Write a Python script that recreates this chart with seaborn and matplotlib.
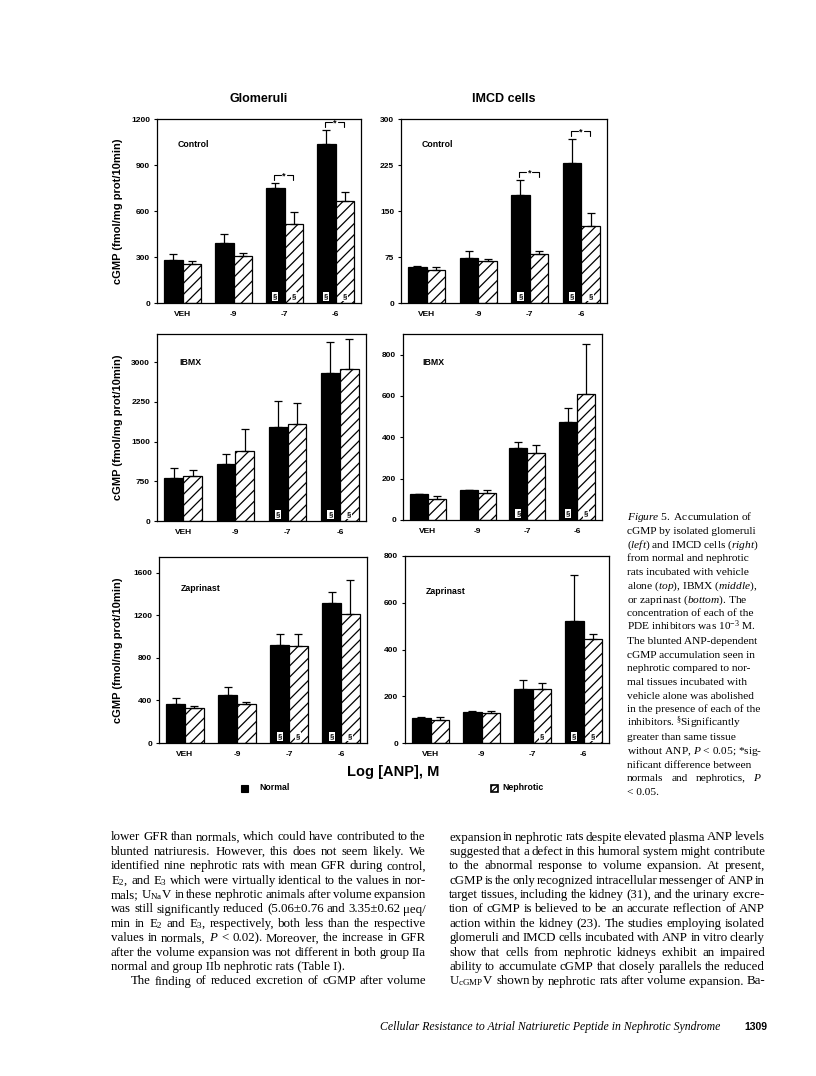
import numpy as np
import pandas as pd
import matplotlib
matplotlib.use("Agg")
import matplotlib.pyplot as plt
import matplotlib.transforms as mtransforms
from matplotlib.patches import Rectangle
import seaborn as sns

W, H = 816, 1076

doses = ["VEH", "-9", "-7", "-6"]
groups = ["Normal", "Nephrotic"]

# glomeruli / IMCD cells, mean and SEM
glom_ctrl_normal = [283, 391, 748, 1039]
glom_ctrl_normal_sem = [39, 61, 32, 87]
glom_ctrl_neph = [254, 307, 517, 667]
glom_ctrl_neph_sem = [22, 21, 74, 55]

imcd_ctrl_normal = [58, 74, 176, 229]
imcd_ctrl_normal_sem = [3, 10, 24, 39]
imcd_ctrl_neph = [53, 68, 80, 126]
imcd_ctrl_neph_sem = [6, 4, 4, 21]

glom_ibmx_normal = [803, 1067, 1776, 2793]
glom_ibmx_normal_sem = [201, 201, 496, 578]
glom_ibmx_neph = [847, 1324, 1827, 2862]
glom_ibmx_neph_sem = [107, 421, 401, 578]

imcd_ibmx_normal = [126, 144, 346, 475]
imcd_ibmx_normal_sem = [2, 2, 30, 69]
imcd_ibmx_neph = [102, 129, 326, 611]
imcd_ibmx_neph_sem = [13, 15, 37, 242]

glom_zap_normal = [368, 453, 924, 1317]
glom_zap_normal_sem = [53, 78, 101, 101]
glom_zap_neph = [330, 368, 908, 1210]
glom_zap_neph_sem = [22, 22, 117, 327]

imcd_zap_normal = [105, 131, 231, 520]
imcd_zap_normal_sem = [7, 7, 39, 200]
imcd_zap_neph = [97, 127, 233, 447]
imcd_zap_neph_sem = [14, 8, 22, 20]

# § flags (normal, nephrotic) and * brackets (dose index, height)
glom_ctrl_sect = ([0, 0, 1, 1], [0, 0, 1, 1])
imcd_ctrl_sect = ([0, 0, 1, 1], [0, 0, 0, 1])
glom_ibmx_sect = ([0, 0, 1, 1], [0, 0, 0, 1])
imcd_ibmx_sect = ([0, 0, 1, 1], [0, 0, 0, 1])
glom_zap_sect = ([0, 0, 1, 1], [0, 0, 1, 1])
imcd_zap_sect = ([0, 0, 0, 1], [0, 0, 1, 1])
glom_ctrl_stars = [(2, 837), (3, 1178)]
imcd_ctrl_stars = [(2, 214), (3, 281)]

sns.set_style("ticks", {"axes.edgecolor": "black", "xtick.color": "black",
                        "ytick.color": "black", "text.color": "black",
                        "axes.labelcolor": "black"})
plt.rcParams["font.family"] = ["Liberation Sans", "DejaVu Sans"]
plt.rcParams["mathtext.fontset"] = "custom"
plt.rcParams["mathtext.rm"] = "Liberation Serif"
plt.rcParams["mathtext.it"] = "Liberation Serif:italic"
plt.rcParams["hatch.linewidth"] = 0.9

fig = plt.figure(figsize=(W / 100, H / 100), dpi=100)


def add_axes_px(x0, y0, x1, y1):
    return fig.add_axes([x0 / W, 1 - y1 / H, (x1 - x0) / W, (y1 - y0) / H])


def panel(ax, normal, normal_sem, neph, neph_sem, ymax, yticks, label, label_xy,
          sect, stars=(), ylabel=False, title=None, left_px=0, width_px=1):
    df = pd.DataFrame({"dose": doses * 2,
                       "group": ["Normal"] * 4 + ["Nephrotic"] * 4,
                       "value": normal + neph})
    sns.barplot(data=df, x="dose", y="value", hue="group", order=doses,
                hue_order=groups, palette={"Normal": "black", "Nephrotic": "white"},
                saturation=1, width=0.72, gap=0, edgecolor="black", linewidth=0.9,
                errorbar=None, legend=False, ax=ax)
    for bar in ax.containers[1]:
        bar.set_hatch("///")
    trans = mtransforms.blended_transform_factory(ax.transData, ax.transAxes)
    for cont, sem, flags in zip(ax.containers, [normal_sem, neph_sem], sect):
        xs = [b.get_x() + b.get_width() / 2 for b in cont]
        ys = [b.get_height() for b in cont]
        ax.errorbar(xs, ys, yerr=[np.zeros(len(sem)), sem], fmt="none",
                    ecolor="black", elinewidth=0.9, capsize=2.8, capthick=0.9, zorder=3)
        for x, f in zip(xs, flags):
            if f:
                ax.text(x, 0.035, "§", transform=trans, ha="center", va="center",
                        fontsize=5.5, fontweight="bold", zorder=4,
                        bbox=dict(boxstyle="square,pad=0.12", fc="white", ec="none"))
    d = 0.027 * ymax
    for i, h in stars:
        ax.plot([i - 0.2, i - 0.2, i - 0.07], [h - d, h, h], color="black", lw=0.8)
        ax.plot([i + 0.05, i + 0.17, i + 0.17], [h, h, h - d], color="black", lw=0.8)
        ax.text(i - 0.01, h - 0.2 * d, "*", ha="center", va="center",
                fontsize=6.5, fontweight="bold")
    ax.set_xlim(-0.5, 3.5)
    ax.set_ylim(0, ymax)
    ax.set_yticks(yticks)
    ax.set_xlabel("")
    ax.set_ylabel("")
    for s in ax.spines.values():
        s.set_visible(True)
        s.set_linewidth(0.9)
    ax.tick_params(axis="y", length=2, width=0.8, pad=3, labelsize=6)
    ax.tick_params(axis="x", length=0, pad=6, labelsize=6)
    for t in ax.get_xticklabels() + ax.get_yticklabels():
        t.set_fontweight("bold")
    ax.text(label_xy[0], label_xy[1], label, transform=ax.transAxes,
            fontsize=6.3, fontweight="bold", ha="left", va="center")
    if ylabel:
        ax.set_ylabel("cGMP (fmol/mg prot/10min)", fontsize=8, fontweight="bold")
        ax.yaxis.set_label_coords((123 - left_px) / width_px, 0.5)
    if title:
        ax.set_title(title, fontsize=9, fontweight="bold", pad=12)


ax = add_axes_px(157, 119, 361, 303)
panel(ax, glom_ctrl_normal, glom_ctrl_normal_sem, glom_ctrl_neph, glom_ctrl_neph_sem,
      1200, [0, 300, 600, 900, 1200], "Control", (0.1, 0.86), glom_ctrl_sect,
      glom_ctrl_stars, ylabel=True, title="Glomeruli", left_px=157, width_px=204)

ax = add_axes_px(401, 119, 607, 303)
panel(ax, imcd_ctrl_normal, imcd_ctrl_normal_sem, imcd_ctrl_neph, imcd_ctrl_neph_sem,
      300, [0, 75, 150, 225, 300], "Control", (0.1, 0.86), imcd_ctrl_sect,
      imcd_ctrl_stars, title="IMCD cells")

ax = add_axes_px(157, 334, 366, 521)
panel(ax, glom_ibmx_normal, glom_ibmx_normal_sem, glom_ibmx_neph, glom_ibmx_neph_sem,
      3530, [0, 750, 1500, 2250, 3000], "IBMX", (0.105, 0.845), glom_ibmx_sect,
      ylabel=True, left_px=157, width_px=209)

ax = add_axes_px(403, 334, 602, 520)
panel(ax, imcd_ibmx_normal, imcd_ibmx_normal_sem, imcd_ibmx_neph, imcd_ibmx_neph_sem,
      900, [0, 200, 400, 600, 800], "IBMX", (0.095, 0.845), imcd_ibmx_sect)

ax = add_axes_px(159, 557, 367, 743)
panel(ax, glom_zap_normal, glom_zap_normal_sem, glom_zap_neph, glom_zap_neph_sem,
      1750, [0, 400, 800, 1200, 1600], "Zaprinast", (0.105, 0.83), glom_zap_sect,
      ylabel=True, left_px=159, width_px=208)

ax = add_axes_px(405, 556, 609, 743)
panel(ax, imcd_zap_normal, imcd_zap_normal_sem, imcd_zap_neph, imcd_zap_neph_sem,
      800, [0, 200, 400, 600, 800], "Zaprinast", (0.1, 0.81), imcd_zap_sect)


def ftext(x, y, s, **kw):
    return fig.text(x / W, 1 - y / H, s, **kw)


ftext(393, 772, "Log [ANP], M", fontsize=10.5, fontweight="bold", ha="center", va="center")
fig.add_artist(Rectangle((241 / W, 1 - 792 / H), 7 / W, 7 / H, transform=fig.transFigure,
                         fc="black", ec="black", lw=0.8))
ftext(259, 788, "Normal", fontsize=6.3, fontweight="bold", ha="left", va="center")
fig.add_artist(Rectangle((491 / W, 1 - 792 / H), 7 / W, 7 / H, transform=fig.transFigure,
                         fc="white", ec="black", lw=1.2, hatch="//////"))
ftext(502, 788, "Nephrotic", fontsize=6.3, fontweight="bold", ha="left", va="center")

renderer = fig.canvas.get_renderer()
serif = "Liberation Serif"


def justify(line, x0, x1, y, size):
    words = line.split(" ")
    texts = [ftext(0, y, w, fontsize=size, family=serif, va="baseline") for w in words]
    widths = [t.get_window_extent(renderer).width for t in texts]
    gap = (x1 - x0 - sum(widths)) / (len(words) - 1)
    x = x0
    for t, w in zip(texts, widths):
        t.set_x(x / W)
        x += w + gap


caption = [
    r"$\mathit{Figure\ 5.}$ Accumulation of",
    "cGMP by isolated glomeruli",
    r"($\mathit{left}$) and IMCD cells ($\mathit{right}$)",
    "from normal and nephrotic",
    "rats incubated with vehicle",
    r"alone ($\mathit{top}$), IBMX ($\mathit{middle}$),",
    r"or zaprinast ($\mathit{bottom}$). The",
    "concentration of each of the",
    r"PDE inhibitors was 10$^{-3}$ M.",
    "The blunted ANP-dependent",
    "cGMP accumulation seen in",
    "nephrotic compared to nor-",
    "mal tissues incubated with",
    "vehicle alone was abolished",
    "in the presence of each of the",
    r"inhibitors. $^{\S}$Significantly",
    "greater than same tissue",
    r"without ANP, $P$ < 0.05; *sig-",
    "nificant difference between",
    r"normals and nephrotics, $P$",
    "< 0.05.",
]
for i, line in enumerate(caption):
    y = 520 + 13.75 * i
    if i == 19:
        justify(line, 627, 762, y, 8.2)
    else:
        ftext(627, y, line, fontsize=8.2, family=serif, va="baseline")

left_col = [
    "lower GFR than normals, which could have contributed to the",
    "blunted natriuresis. However, this does not seem likely. We",
    "identified nine nephrotic rats with mean GFR during control,",
    r"E$_2$, and E$_3$ which were virtually identical to the values in nor-",
    r"mals; U$_{\mathrm{Na}}$V in these nephrotic animals after volume expansion",
    "was still significantly reduced (5.06±0.76 and 3.35±0.62 μeq/",
    r"min in E$_2$ and E$_3$, respectively, both less than the respective",
    r"values in normals, $P$ < 0.02). Moreover, the increase in GFR",
    "after the volume expansion was not different in both group IIa",
    "normal and group IIb nephrotic rats (Table I).",
    "The finding of reduced excretion of cGMP after volume",
]
right_col = [
    "expansion in nephrotic rats despite elevated plasma ANP levels",
    "suggested that a defect in this humoral system might contribute",
    "to the abnormal response to volume expansion. At present,",
    "cGMP is the only recognized intracellular messenger of ANP in",
    "target tissues, including the kidney (31), and the urinary excre-",
    "tion of cGMP is believed to be an accurate reflection of ANP",
    "action within the kidney (23). The studies employing isolated",
    "glomeruli and IMCD cells incubated with ANP in vitro clearly",
    "show that cells from nephrotic kidneys exhibit an impaired",
    "ability to accumulate cGMP that closely parallels the reduced",
    r"U$_{\mathrm{cGMP}}$V shown by nephrotic rats after volume expansion. Ba-",
]
body_size = 9.3
for i, line in enumerate(left_col):
    y = 840.5 + 14.4 * i
    if i == 9:
        ftext(111, y, line, fontsize=body_size, family=serif, va="baseline")
    elif i == 10:
        justify(line, 131, 426, y, body_size)
    else:
        justify(line, 111, 426, y, body_size)
for i, line in enumerate(right_col):
    justify(line, 449, 765, 840.5 + 14.4 * i, body_size)

ftext(720, 1030, "Cellular Resistance to Atrial Natriuretic Peptide in Nephrotic Syndrome",
      fontsize=8.5, family=serif, style="italic", ha="right", va="baseline")
ftext(767, 1030, "1309", fontsize=7.5, fontweight="bold", ha="right", va="baseline")

fig.savefig("out.png", dpi=100)
